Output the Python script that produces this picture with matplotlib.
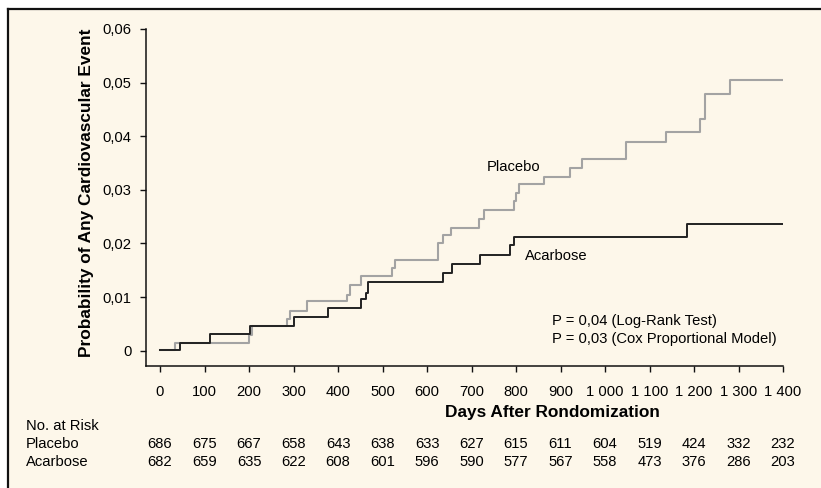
import matplotlib.pyplot as plt
from matplotlib.lines import Line2D
from matplotlib.patches import Rectangle
import matplotlib.transforms as mtransforms

plt.rcParams['font.family'] = ['Liberation Sans', 'DejaVu Sans']

# Kaplan-Meier steps (day, cumulative probability)
placebo_days = [0, 34, 201, 207, 285, 293, 330, 421, 426, 451, 521, 527, 624, 637, 653,
                716, 729, 795, 801, 807, 863, 921, 949, 1047, 1136, 1214, 1225, 1282, 1400]
placebo_prob = [0.0002, 0.0015, 0.0030, 0.0047, 0.0060, 0.0075, 0.0092, 0.0104, 0.0122,
                0.0139, 0.0154, 0.0169, 0.0200, 0.0216, 0.0229, 0.0246, 0.0262, 0.0279,
                0.0294, 0.0310, 0.0324, 0.0340, 0.0357, 0.0390, 0.0408, 0.0433, 0.0478,
                0.0505, 0.0505]

acarbose_days = [0, 46, 112, 203, 302, 378, 451, 464, 468, 636, 657, 720, 786, 796, 1185, 1400]
acarbose_prob = [0.0002, 0.0015, 0.0032, 0.0047, 0.0063, 0.0080, 0.0097, 0.0108, 0.0129,
                 0.0145, 0.0161, 0.0178, 0.0197, 0.0213, 0.0237, 0.0237]

x_ticks = list(range(0, 1401, 100))
x_labels = ['0', '100', '200', '300', '400', '500', '600', '700', '800', '900',
            '1 000', '1 100', '1 200', '1 300', '1 400']
y_ticks = [0, 0.01, 0.02, 0.03, 0.04, 0.05, 0.06]
y_labels = ['0', '0,01', '0,02', '0,03', '0,04', '0,05', '0,06']

risk_placebo = [686, 675, 667, 658, 643, 638, 633, 627, 615, 611, 604, 519, 424, 332, 232]
risk_acarbose = [682, 659, 635, 622, 608, 601, 596, 590, 577, 567, 558, 473, 376, 286, 203]

W, H = 821, 488
fig = plt.figure(figsize=(W / 100, H / 100), dpi=100)
fig.patch.set_facecolor('white')

# cream panel with a black border on the left and top
bx, by = 8 / W, 1 - 9 / H
fig.patches.append(Rectangle((bx, 0), 1 - bx, by, transform=fig.transFigure,
                             facecolor='#fdf7ea', edgecolor='none', zorder=-5))
fig.lines.append(Line2D([bx, bx], [0, by], transform=fig.transFigure, color='#111111', lw=1.6))
fig.lines.append(Line2D([bx, 1], [by, by], transform=fig.transFigure, color='#111111', lw=1.6))

ax = fig.add_axes([146 / W, 1 - 366 / H, (783 - 146) / W, (366 - 29) / H])
ax.set_facecolor('none')
ax.set_zorder(2)

ax.step(placebo_days, placebo_prob, where='post', color='#a3a3a3', lw=1.5)
ax.step(acarbose_days, acarbose_prob, where='post', color='#222222', lw=1.4)

ax.set_xlim(-31.5, 1400)
ax.set_ylim(-0.00285, 0.06)
ax.spines['top'].set_visible(False)
ax.spines['right'].set_visible(False)
for s in ('left', 'bottom'):
    ax.spines[s].set_linewidth(1.1)
    ax.spines[s].set_color('#111111')

ax.set_xticks(x_ticks)
ax.set_xticklabels(x_labels, fontsize=10.6)
ax.set_yticks(y_ticks)
ax.set_yticklabels(y_labels, fontsize=10.6)
ax.tick_params(axis='both', direction='out', length=4.5, width=1.0, color='#111111')
ax.tick_params(axis='x', pad=9)
ax.tick_params(axis='y', pad=6)

ax.text(735, 0.03426, 'Placebo', fontsize=10.6, ha='left', va='center')
ax.text(820, 0.01766, 'Acarbose', fontsize=10.6, ha='left', va='center')
ax.text(880, 0.0056, 'P = 0,04 (Log-Rank Test)', fontsize=10.6, ha='left', va='center')
ax.text(880, 0.00218, 'P = 0,03 (Cox Proportional Model)', fontsize=10.6, ha='left', va='center')

fig.text(86 / W, 1 - 193 / H, 'Probability of Any Cardiovascular Event', rotation=90,
         fontsize=12.4, fontweight='bold', ha='center', va='center')
fig.text(552 / W, 1 - 413 / H, 'Days After Rondomization',
         fontsize=12.4, fontweight='bold', ha='center', va='center')

# numbers at risk under each tick
trans = mtransforms.blended_transform_factory(ax.transData, fig.transFigure)
fig.text(26 / W, 1 - 426 / H, 'No. at Risk', fontsize=10.6, ha='left', va='center')
fig.text(26 / W, 1 - 444 / H, 'Placebo', fontsize=10.6, ha='left', va='center')
fig.text(26 / W, 1 - 462 / H, 'Acarbose', fontsize=10.6, ha='left', va='center')
for d, p, a in zip(x_ticks, risk_placebo, risk_acarbose):
    ax.text(d, 1 - 444 / H, str(p), transform=trans, fontsize=10.6, ha='center', va='center',
            clip_on=False)
    ax.text(d, 1 - 462 / H, str(a), transform=trans, fontsize=10.6, ha='center', va='center',
            clip_on=False)

fig.savefig('out.png', dpi=100)
